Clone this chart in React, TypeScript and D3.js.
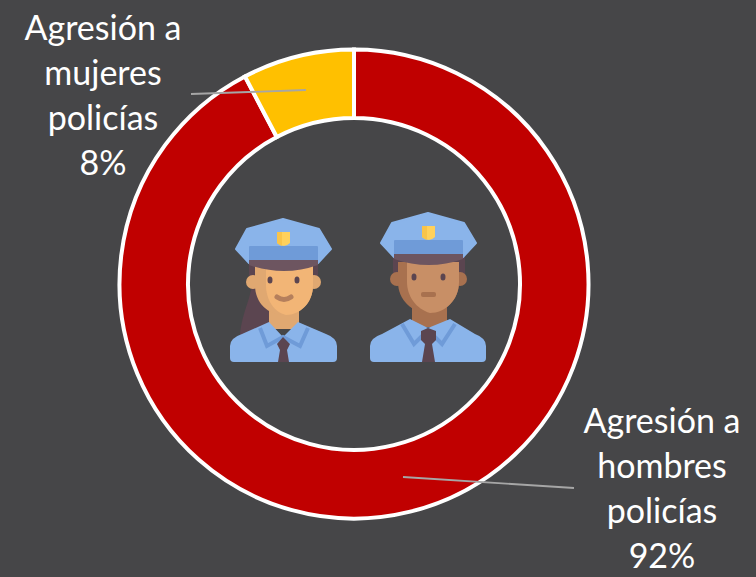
import React from "react";
import * as d3 from "d3";

const categories = ["Agresión a hombres policías", "Agresión a mujeres policías"];
const shares = [92.3, 7.7];
const labelLines = [
  ["Agresión a", "hombres", "policías", "92%"],
  ["Agresión a", "mujeres", "policías", "8%"]
];
const colors = ["#c00000", "#ffc000"];

const width = 756;
const height = 577;
const cx = 354;
const cy = 284;
const outerR = 234.5;
const innerR = 166;

// label centre x, first baseline y, leader line start / end
const labelPos = [
  { x: 662, y: 433, leader: [[403, 477], [574, 488]] },
  { x: 103, y: 40, leader: [[191, 94], [306, 90]] }
];

const Cap: React.FC = () => (
  <>
    <path d="M63,0 L99,10 L111,30 L98,44 L29,44 L16,30 L27,10 Z" fill="#8ab4ea" stroke="#8ab4ea" strokeWidth="2" strokeLinejoin="round" />
    <rect x="29" y="27" width="69" height="17" rx="1" fill="#6f9bd8" />
    <path d="M29,41 L98,41 L98,46 Q64,58 29,46 Z" fill="#6d5560" />
    <path d="M57,13 H70 V24 Q64,30 57,24 Z" fill="#ffd15c" />
    <path d="M57,13 H62 V27 Q59,26 57,24 Z" fill="#f9c44a" />
  </>
);

const PoliceWoman: React.FC = () => (
  <g transform="translate(220,200)">
    <path d="M29,60 H98 V78 H29 Z" fill="#5b4550" />
    <path d="M33,70 C34,95 22,110 20,135 L50,135 L50,90 Z" fill="#5b4550" />
    <rect x="49" y="105" width="30" height="24" fill="#e0a871" />
    <circle cx="33" cy="82" r="7" fill="#e0a871" />
    <circle cx="94" cy="82" r="7" fill="#e0a871" />
    <path d="M35,66 H93 V85 C93,103 80,115 64,115 C48,115 35,103 35,85 Z" fill="#e0a871" />
    <path d="M46,66 H93 V85 C93,103 80,115 66,115 C54,112 46,100 46,85 Z" fill="#f2b576" />
    <ellipse cx="50" cy="80" rx="2.5" ry="3.5" fill="#5b4550" />
    <ellipse cx="77" cy="80" rx="2.5" ry="3.5" fill="#5b4550" />
    <path d="M57,97 Q64,102 71,97" fill="none" stroke="#b57f5c" strokeWidth="5" strokeLinecap="round" />
    <path d="M10,146 Q10,138 22,134 L49,122 L63,137 L78,122 L106,134 Q117,138 117,146 V158 Q117,162 113,162 H14 Q10,162 10,158 Z" fill="#8ab4ea" />
    <path d="M40,128 L47,146 L63,137 L80,146 L88,128" fill="none" stroke="#6f9bd8" strokeWidth="4" />
    <path d="M57,144 L63,137 L70,144 L67,150 L69,162 H58 L60,150 Z" fill="#5b4550" />
    <g transform="translate(0,19)">
      <Cap />
    </g>
  </g>
);

const PoliceMan: React.FC = () => (
  <g transform="translate(360,194)">
    <path d="M33,62 H105 V80 H33 Z" fill="#5b4550" />
    <rect x="52" y="105" width="35" height="28" fill="#a8714f" />
    <circle cx="37" cy="85" r="7" fill="#a8714f" />
    <circle cx="100" cy="85" r="7" fill="#a8714f" />
    <path d="M38,68 H99 V88 C99,106 85,119 69,119 C52,119 38,106 38,88 Z" fill="#a8714f" />
    <path d="M47,68 H99 V88 C99,106 85,119 70,119 C56,115 47,102 47,88 Z" fill="#c88f66" />
    <ellipse cx="54" cy="83" rx="2.5" ry="3.5" fill="#5b4550" />
    <ellipse cx="83" cy="83" rx="2.5" ry="3.5" fill="#5b4550" />
    <rect x="61" y="98" width="15" height="5" rx="2" fill="#a8714f" />
    <path d="M10,152 Q10,144 22,140 L50,125 L68,134 L90,125 L115,140 Q126,144 126,152 V164 Q126,168 122,168 H14 Q10,168 10,164 Z" fill="#8ab4ea" />
    <path d="M42,130 L54,150 L68,136 L82,150 L95,130" fill="none" stroke="#6f9bd8" strokeWidth="4" />
    <path d="M61,137 L68,134 L76,137 V146 L72,150 L75,168 H62 L65,150 L61,146 Z" fill="#5b4550" />
    <g transform="translate(5,19)">
      <Cap />
    </g>
  </g>
);

const App: React.FC = () => {
  const pie = d3.pie<number>().sort(null).value(d => d);
  const arc = d3.arc<d3.PieArcDatum<number>>().innerRadius(innerR).outerRadius(outerR);
  const arcs = pie(shares);

  return (
    <svg
      width={width}
      height={height}
      style={{ position: "absolute", left: 0, top: 0, background: "#464648" }}
      fontFamily="Lato, 'Open Sans', sans-serif"
    >
      <g transform={`translate(${cx},${cy})`}>
        {arcs.map((d, i) => (
          <path key={categories[i]} d={arc(d) as string} fill={colors[i]} stroke="#fff" strokeWidth={4} />
        ))}
      </g>
      {labelPos.map((p, i) => (
        <g key={categories[i]}>
          <line
            x1={p.leader[0][0]}
            y1={p.leader[0][1]}
            x2={p.leader[1][0]}
            y2={p.leader[1][1]}
            stroke="#a6a6a6"
            strokeWidth={1.8}
          />
          <text x={p.x} y={p.y} textAnchor="middle" fontSize={34} fill="#fff">
            {labelLines[i].map((line, j) => (
              <tspan key={j} x={p.x} y={p.y + j * 45}>
                {line}
              </tspan>
            ))}
          </text>
        </g>
      ))}
      <PoliceWoman />
      <PoliceMan />
    </svg>
  );
};

export default App;
